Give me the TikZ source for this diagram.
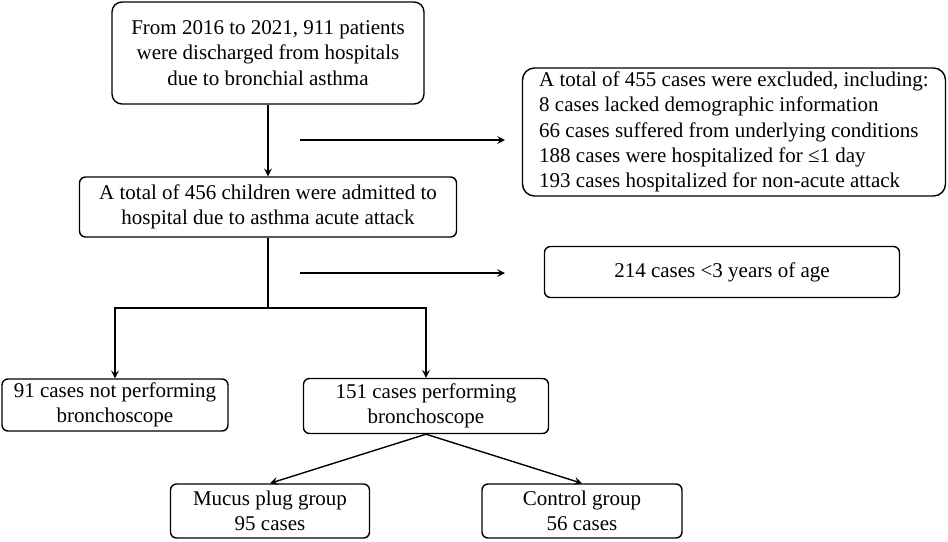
\documentclass[tikz,border=0pt]{standalone}
\usepackage{fontspec}
\setmainfont{Liberation Serif}
\usetikzlibrary{positioning}

\begin{document}
\begin{tikzpicture}[>=stealth,on grid,line width=0.7pt,
	box/.style={draw,rounded corners=3pt,align=center,inner sep=0pt,font=\fontsize{10.5}{12.6}\selectfont}]
	\useasboundingbox (0,0) rectangle (474pt,-270.5pt);
	\node[box,rounded corners=5pt,minimum width=156pt,minimum height=51pt] (total) at (134pt,-26.5pt) {From 2016 to 2021, 911 patients\\were discharged from hospitals\\due to bronchial asthma};
	\node[box,minimum width=188.5pt,minimum height=30pt] (acute) [below=77pt of total] {A total of 456 children were admitted to\\hospital due to asthma acute attack};
	\node[box,rounded corners=6pt,align=left,minimum width=211.5pt,minimum height=64pt] (excl) [below right=39.5pt and 233pt of total] {A total of 455 cases were excluded, including:\\8 cases lacked demographic information\\66 cases suffered from underlying conditions\\188 cases were hospitalized for ≤1 day\\193 cases hospitalized for non-acute attack};
	\node[box,minimum width=177.5pt,minimum height=25.5pt] (young) [below right=32.5pt and 227pt of acute] {214 cases <3 years of age};
	\node[box,minimum width=113pt,minimum height=26pt] (nobron) [below left=99pt and 76.5pt of acute] {91 cases not performing\\bronchoscope};
	\node[box,minimum width=122.5pt,minimum height=27.5pt] (bron) [below right=99.5pt and 79pt of acute] {151 cases performing\\bronchoscope};
	\node[box,minimum width=99.5pt,minimum height=27pt] (mucus) [below left=52.5pt and 78pt of bron] {Mucus plug group\\95 cases};
	\node[box,minimum width=100pt,minimum height=27pt] (control) [below right=52.5pt and 78pt of bron] {Control group\\56 cases};
	\coordinate (ex1) at (150pt,-70pt);
	\coordinate (ex1end) at (252.5pt,-70pt);
	\coordinate (ex2) at (150pt,-136.5pt);
	\coordinate (ex2end) at (252.5pt,-136.5pt);
	\coordinate (split) at (134pt,-154pt);
	\draw[->] (total) -- (acute);
	\draw[->] (ex1) -- (ex1end);
	\draw[->] (ex2) -- (ex2end);
	\draw (acute) -- (split);
	\draw[->] (split) -| (nobron);
	\draw[->] (split) -| (bron);
	\draw[->] (bron.south) -- (mucus.north);
	\draw[->] (bron.south) -- (control.north);
\end{tikzpicture}
\end{document}
